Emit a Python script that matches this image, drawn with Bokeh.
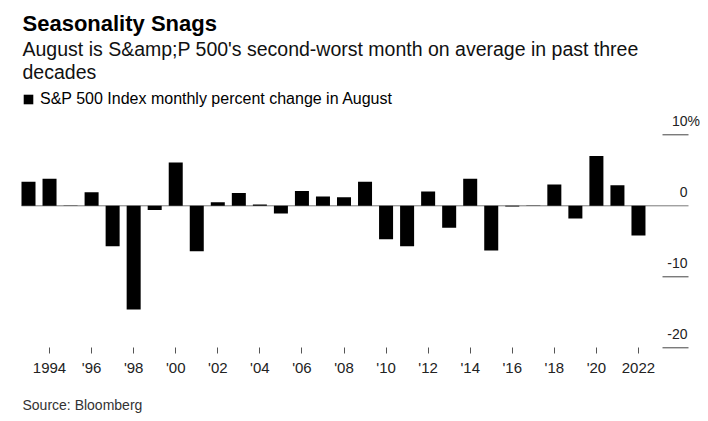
from bokeh.plotting import figure
from bokeh.models import Range1d, FixedTicker, Legend, LegendItem
from bokeh.core.properties import value
from bokeh.embed import file_html
from bokeh.resources import INLINE

# ---- data ----
years = list(range(1993, 2023))
changes = [3.4, 3.8, -0.03, 1.9, -5.7, -14.6, -0.6, 6.1, -6.4, 0.5,
           1.8, 0.2, -1.1, 2.1, 1.3, 1.2, 3.4, -4.7, -5.7, 2.0,
           -3.1, 3.8, -6.3, -0.1, 0.05, 3.0, -1.8, 7.0, 2.9, -4.2]
tick_years = [1994, 1996, 1998, 2000, 2002, 2004, 2006, 2008, 2010,
              2012, 2014, 2016, 2018, 2020, 2022]
tick_labels = ["1994", "'96", "'98", "'00", "'02", "'04", "'06", "'08", "'10",
               "'12", "'14", "'16", "'18", "'20", "2022"]
y_ticks = [10, 0, -10, -20]
y_tick_labels = ["10", "0", "-10", "-20"]
grid_vals = [10, -10, -20]

title_text = "Seasonality Snags"
subtitle_lines = ["August is S&amp;P 500's second-worst month on average in past three",
                  "decades"]
legend_text = "S&P 500 Index monthly percent change in August"
source_text = "Source: Bloomberg"

FONT = "Liberation Sans"
H = 420

p = figure(width=700, height=H, output_backend="svg", toolbar_location=None,
           title=None,
           x_range=Range1d(1991.669, 2024.949), y_range=Range1d(-30.239, 28.915),
           y_axis_location=None, min_border_left=0, min_border_right=0,
           min_border_top=0, min_border_bottom=0, outline_line_color=None)
p.grid.visible = False

p.extra_x_ranges = {"px": Range1d(0, 700)}
p.extra_y_ranges = {"px": Range1d(H, 0)}

# zero line and short gridlines
p.segment(x0=21, x1=688, y0=0, y1=0, x_range_name="px",
          line_color="#7a7a7a", line_width=1)
p.segment(x0=662, x1=688, y0=grid_vals, y1=grid_vals, x_range_name="px",
          line_color="#444444", line_width=1)

bars = p.vbar(x=years, top=changes, bottom=0, width=0.666,
              fill_color="#000000", line_color=None)

# right-side value labels
p.text(x=687, y=y_ticks, text=y_tick_labels, x_range_name="px",
       text_font=value(FONT), text_font_size="14px", text_color="#222222",
       text_align="right", text_baseline="alphabetic", y_offset=-14)
p.text(x=687, y=[y_ticks[0]], text=["%"], x_range_name="px",
       text_font=value(FONT), text_font_size="14px", text_color="#222222",
       text_align="left", text_baseline="alphabetic", y_offset=-14)

# titles
p.text(x=22, y=22.5, text=[title_text], x_range_name="px", y_range_name="px",
       text_font=value(FONT), text_font_style="bold", text_font_size="22px",
       text_color="#000000", text_align="left", text_baseline="alphabetic")
p.text(x=22, y=[48.5, 71.5], text=subtitle_lines, x_range_name="px", y_range_name="px",
       text_font=value(FONT), text_font_size="19.5px",
       text_color="#111111", text_align="left", text_baseline="alphabetic")

# source note
p.text(x=22, y=404.5, text=[source_text], x_range_name="px", y_range_name="px",
       text_font=value(FONT), text_font_size="14px",
       text_color="#333333", text_align="left", text_baseline="alphabetic")

legend = Legend(items=[LegendItem(label=legend_text, renderers=[bars])],
                location=(22, H - 109), padding=0, margin=0, border_line_color=None,
                background_fill_alpha=0, glyph_width=12, glyph_height=12,
                label_standoff=6, label_height=20,
                label_text_font=FONT, label_text_font_size="16px",
                label_text_color="#000000")
p.add_layout(legend)

ax = p.xaxis[0]
ax.fixed_location = -20.803
ax.ticker = FixedTicker(ticks=tick_years)
ax.major_label_overrides = {y: l for y, l in zip(tick_years, tick_labels)}
ax.axis_line_color = None
ax.major_tick_in = 6
ax.major_tick_out = 0
ax.minor_tick_line_color = None
ax.major_tick_line_color = "#555555"
ax.major_label_standoff = 5
ax.major_label_text_font = FONT
ax.major_label_text_font_size = "15px"
ax.major_label_text_color = "#222222"

open("out.html", "w").write(file_html(p, INLINE))
